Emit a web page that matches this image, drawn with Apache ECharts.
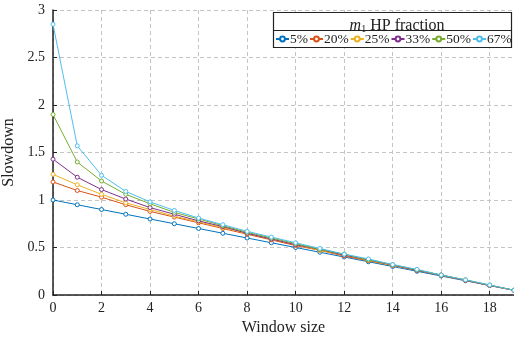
<!DOCTYPE html>
<html>
<head>
<meta charset="utf-8">
<script src="https://cdn.jsdelivr.net/npm/echarts@6/dist/echarts.min.js"></script>
<style>
  html, body { margin: 0; padding: 0; background: #fff; }
  #chart { width: 514px; height: 337px; }
</style>
</head>
<body>
<div id="chart"></div>
<script>
const windowSizes = [0, 1, 2, 3, 4, 5, 6, 7, 8, 9, 10, 11, 12, 13, 14, 15, 16, 17, 18, 19];

const hp5 = [1.0, 0.95, 0.9, 0.85, 0.8, 0.75, 0.7, 0.65, 0.6, 0.55, 0.5, 0.45, 0.4, 0.35, 0.3, 0.25, 0.2, 0.15, 0.1, 0.05];
const hp20 = [1.19, 1.1, 1.03, 0.95, 0.88, 0.82, 0.76, 0.7, 0.64, 0.58, 0.52, 0.47, 0.41, 0.36, 0.31, 0.26, 0.205, 0.155, 0.1, 0.05];
const hp25 = [1.27, 1.16, 1.06, 0.97, 0.9, 0.83, 0.77, 0.71, 0.65, 0.59, 0.53, 0.47, 0.42, 0.365, 0.31, 0.26, 0.21, 0.155, 0.1, 0.05];
const hp33 = [1.43, 1.24, 1.11, 1.01, 0.92, 0.85, 0.78, 0.72, 0.65, 0.59, 0.53, 0.48, 0.42, 0.37, 0.315, 0.26, 0.21, 0.155, 0.1, 0.05];
const hp50 = [1.9, 1.4, 1.2, 1.06, 0.96, 0.87, 0.8, 0.73, 0.66, 0.6, 0.54, 0.48, 0.43, 0.37, 0.32, 0.265, 0.21, 0.16, 0.105, 0.05];
const hp67 = [2.85, 1.57, 1.26, 1.09, 0.98, 0.89, 0.81, 0.74, 0.67, 0.61, 0.55, 0.49, 0.43, 0.38, 0.32, 0.27, 0.21, 0.16, 0.105, 0.05];

const seriesNames = ["5%", "20%", "25%", "33%", "50%", "67%"];
const seriesValues = [hp5, hp20, hp25, hp33, hp50, hp67];
const colors = ["#0072BD", "#D95319", "#EDB120", "#7E2F8E", "#77AC30", "#4DBEEE"];

const font = "Liberation Serif";
const chart = echarts.init(document.getElementById("chart"));

const series = seriesNames.map((name, i) => ({
    name,
    type: "line",
    data: windowSizes.map((x, j) => [x, seriesValues[i][j]]),
    symbol: "circle",
    symbolSize: 4,
    showSymbol: true,
    itemStyle: { color: "#fff", borderColor: colors[i], borderWidth: 1 },
    lineStyle: { color: colors[i], width: 1 },
    emphasis: { disabled: true },
    z: 2 + i,
}));

const option = {
    animation: false,
    color: colors,
    grid: { left: 53, right: 0, top: 10, bottom: 42, outerBoundsMode: "none" },
    xAxis: {
        type: "value",
        min: 0,
        max: 19,
        interval: 2,
        name: "Window size",
        nameLocation: "middle",
        nameGap: 22,
        nameTextStyle: { fontFamily: font, fontSize: 16, color: "#222" },
        axisLine: { show: true, lineStyle: { color: "#222", width: 1.5 } },
        axisTick: { show: true, inside: true, length: 4, lineStyle: { color: "#222" } },
        axisLabel: { fontFamily: font, fontSize: 14, color: "#222", margin: 6, showMaxLabel: false },
        splitLine: { show: true, lineStyle: { color: "#c4c4c4", type: [4, 3] } },
    },
    yAxis: {
        type: "value",
        min: 0,
        max: 3,
        interval: 0.5,
        name: "Slowdown",
        nameLocation: "middle",
        nameGap: 31,
        nameTextStyle: { fontFamily: font, fontSize: 16, color: "#222" },
        axisLine: { show: true, lineStyle: { color: "#222", width: 1.5 } },
        axisTick: { show: true, inside: true, length: 4, lineStyle: { color: "#222" } },
        axisLabel: { fontFamily: font, fontSize: 14, color: "#222", margin: 8 },
        splitLine: { show: true, lineStyle: { color: "#c4c4c4", type: [4, 3] } },
    },
    title: {
        text: "{i|m}{s|1} HP fraction",
        left: 392,
        top: 13,
        textAlign: "center",
        z: 20,
        textStyle: {
            fontFamily: font,
            fontSize: 16,
            fontWeight: "normal",
            color: "#222",
            rich: {
                i: { fontFamily: font, fontSize: 16, fontStyle: "italic", color: "#222" },
                s: { fontFamily: font, fontSize: 10, color: "#222", verticalAlign: "bottom", padding: [6, 0, 0, 0] },
            },
        },
    },
    legend: {
        left: 275,
        top: 32,
        width: 238,
        itemGap: 1,
        itemWidth: 13,
        itemHeight: 6,
        padding: 0,
        z: 20,
        textStyle: { fontFamily: font, fontSize: 13.5, color: "#222", padding: [0, 0, 0, -4] },
        data: seriesNames,
    },
    graphic: [
        {
            type: "rect",
            shape: { x: 273.5, y: 12.5, width: 238, height: 35 },
            style: { fill: "#fff", stroke: "#222", lineWidth: 1.2 },
            z: 5,
        },
        {
            type: "line",
            shape: { x1: 273.5, y1: 30.5, x2: 511.5, y2: 30.5 },
            style: { stroke: "#222", lineWidth: 1 },
            z: 6,
        },
    ],
    series,
};

chart.setOption(option);
</script>
</body>
</html>
